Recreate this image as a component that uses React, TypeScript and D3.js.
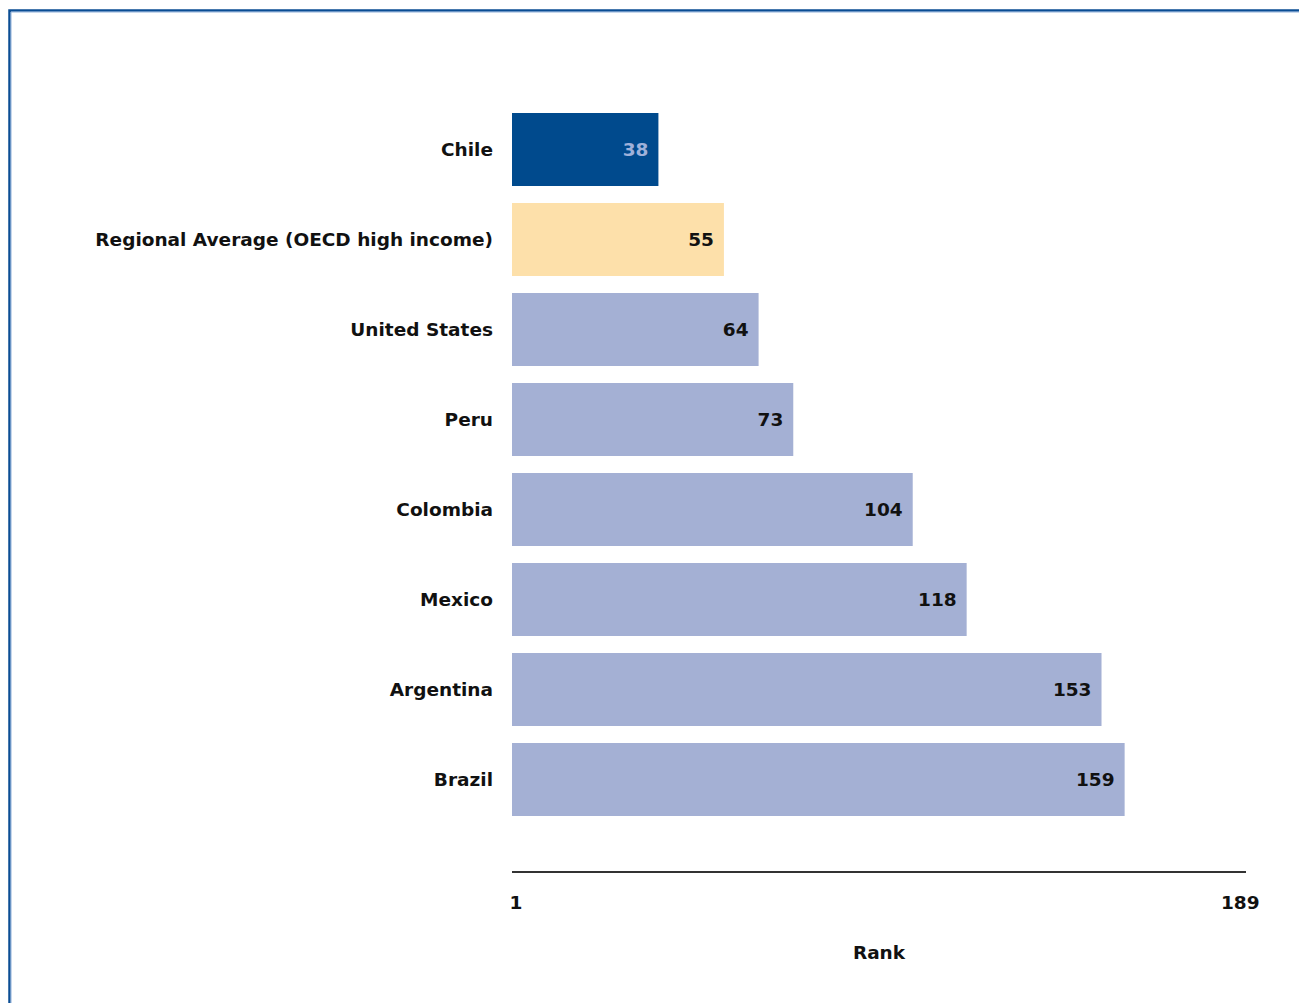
import React from "react";
import * as d3 from "d3";

const categories = [
  "Chile",
  "Regional Average (OECD high income)",
  "United States",
  "Peru",
  "Colombia",
  "Mexico",
  "Argentina",
  "Brazil",
];
const ranks = [38, 55, 64, 73, 104, 118, 153, 159];
const kinds = ["focus", "average", "peer", "peer", "peer", "peer", "peer", "peer"];
const axisTicks = [1, 189];
const axisTitle = "Rank";

const W = 1299;
const H = 1003;
const FONT = "Tahoma, 'DejaVu Sans', sans-serif";
const FS = 18.5;

export default function App() {
  const x = d3.scaleLinear().domain([0, 190.5]).range([512, 1246]);
  const y = d3
    .scaleBand<string>()
    .domain(categories)
    .range([104, 824])
    .paddingInner(0.2)
    .paddingOuter(0.1);

  const fill = (k: string) =>
    k === "focus" ? "#004a8d" : k === "average" ? "#fde0aa" : "#a4b0d4";
  const labelFill = (k: string) => (k === "focus" ? "#9fb1da" : "#111");

  return (
    <svg
      width={W}
      height={H}
      style={{ position: "absolute", left: 0, top: 0, background: "#fff" }}
      fontFamily={FONT}
    >
      <rect x={0} y={0} width={W} height={H} fill="#fff" />
      <path d={`M9.5,${H + 5} V10.5 H${W + 5}`} fill="none" stroke="#0b4d94" strokeWidth={2.5} />
      <path d={`M11,${H + 5} V12 H${W + 5}`} fill="none" stroke="#8fb0da" strokeWidth={1} />

      {categories.map((c, i) => {
        const y0 = y(c)!;
        const bw = y.bandwidth();
        return (
          <g key={c}>
            <rect
              x={x(0)}
              y={y0}
              width={x(ranks[i]) - x(0)}
              height={bw + 1}
              fill={fill(kinds[i])}
            />
            <text
              x={x(ranks[i]) - 10}
              y={y0 + bw / 2 + 1}
              dy="0.35em"
              textAnchor="end"
              fontSize={FS}
              fontWeight="bold"
              fill={labelFill(kinds[i])}
            >
              {ranks[i]}
            </text>
            <text
              x={493}
              y={y0 + bw / 2 + 1}
              dy="0.35em"
              textAnchor="end"
              fontSize={FS}
              fontWeight="bold"
              fill="#111"
            >
              {c}
            </text>
          </g>
        );
      })}

      <line x1={512} x2={1246} y1={872} y2={872} stroke="#333" strokeWidth={2} />
      {axisTicks.map((t) => (
        <text
          key={t}
          x={x(t)}
          y={903}
          dy="0.35em"
          textAnchor="middle"
          fontSize={FS}
          fontWeight="bold"
          fill="#111"
        >
          {t}
        </text>
      ))}
      <text x={879} y={953} dy="0.35em" textAnchor="middle" fontSize={FS} fontWeight="bold" fill="#111">
        {axisTitle}
      </text>
    </svg>
  );
}
